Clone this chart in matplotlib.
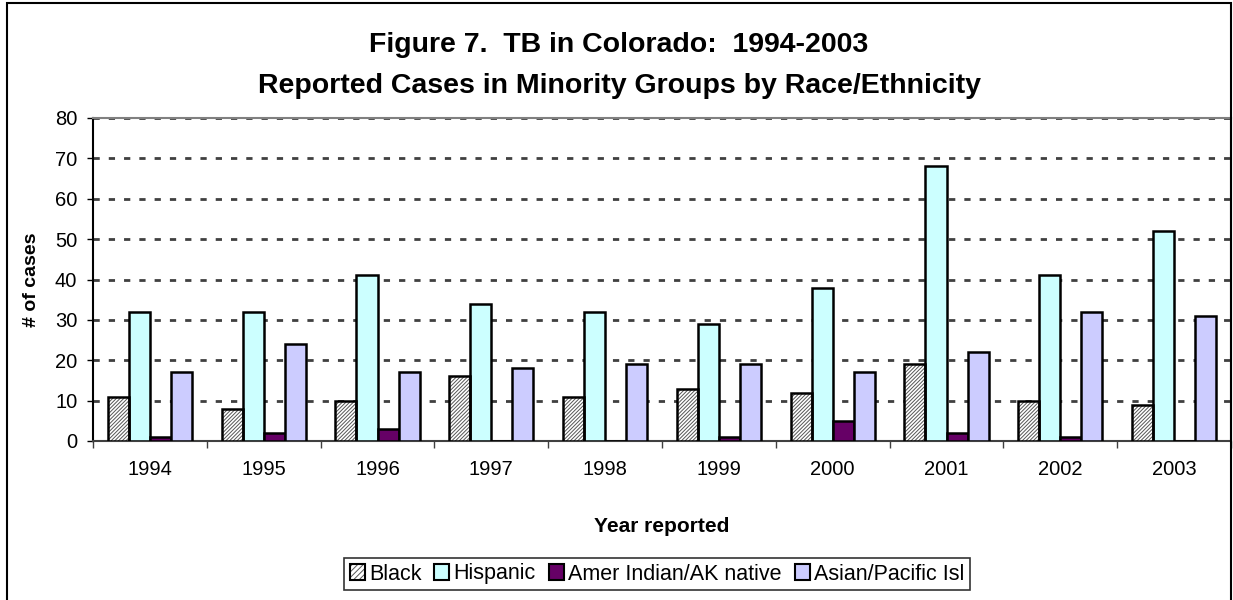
import matplotlib
matplotlib.use('Agg')
import matplotlib.pyplot as plt
import numpy as np
from matplotlib.patches import Patch, Rectangle
from matplotlib.legend_handler import HandlerTuple

years = ['1994', '1995', '1996', '1997', '1998', '1999', '2000', '2001', '2002', '2003']
black = [11, 8, 10, 16, 11, 13, 12, 19, 10, 9]
hispanic = [32, 32, 41, 34, 32, 29, 38, 68, 41, 52]
amer_indian = [1, 2, 3, 0, 0, 1, 5, 2, 1, 0]
asian = [17, 24, 17, 18, 19, 19, 17, 22, 32, 31]

plt.rcParams['font.family'] = ['Liberation Sans', 'DejaVu Sans']
plt.rcParams['hatch.linewidth'] = 0.7
plt.rcParams['lines.scale_dashes'] = False

W, H = 1233, 600
fig = plt.figure(figsize=(W / 100, H / 100), dpi=100)
ax = fig.add_axes([93 / W, 1 - 441 / H, (1231 - 93) / W, (441 - 118) / H])

x = np.arange(len(years))
bw = 0.185
offs = np.array([-1.5, -0.5, 0.5, 1.5]) * bw
lw = 1.8

# black: hatched fill then black outline on top
ax.bar(x + offs[0], black, bw, color='white', edgecolor='#555555', hatch='/////////', linewidth=0, zorder=3)
ax.bar(x + offs[0], black, bw, fill=False, edgecolor='black', linewidth=lw, zorder=4)
ax.bar(x + offs[1], hispanic, bw, color='#ccffff', edgecolor='black', linewidth=lw, zorder=3)
ax.bar(x + offs[2], amer_indian, bw, color='#660066', edgecolor='black', linewidth=lw, zorder=3)
ax.bar(x + offs[3], asian, bw, color='#ccccff', edgecolor='black', linewidth=lw, zorder=3)

ax.set_xlim(-0.5, len(years) - 0.5)
ax.set_ylim(0, 80)
ax.set_yticks(range(0, 81, 10))
ax.set_xticks(x)
ax.set_xticklabels(years, fontsize=14.5)
ax.set_xticks(np.arange(-0.5, len(years), 1), minor=True)
ax.tick_params(axis='x', which='major', length=0, pad=14)
ax.tick_params(axis='x', which='minor', length=5, width=1, color='#404040', direction='out')
ax.tick_params(axis='y', labelsize=14.5, length=4.3, width=1, pad=7, direction='out')

for yv in range(10, 81, 10):
    ax.axhline(yv, color='#404040', linewidth=2, linestyle=(0, (4.5, 6.5)), zorder=1)

ax.spines['left'].set_color('black')
ax.spines['bottom'].set_color('#404040')
ax.spines['top'].set_color('#808080')
ax.spines['right'].set_color('#808080')
for s in ax.spines.values():
    s.set_linewidth(1.5)

ax.set_xlabel('Year reported', fontsize=15, fontweight='bold')
ax.xaxis.set_label_coords(0.5, (441 - 517) / 323)
ax.set_ylabel('# of cases', fontsize=14, fontweight='bold')
ax.yaxis.set_label_coords((40 - 93) / 1138, 0.5)

fig.text(619 / W, 1 - 52 / H, 'Figure 7.  TB in Colorado:  1994-2003', ha='center', va='baseline',
         fontsize=20.5, fontweight='bold')
fig.text(620 / W, 1 - 93 / H, 'Reported Cases in Minority Groups by Race/Ethnicity', ha='center', va='baseline',
         fontsize=20.5, fontweight='bold')

h_black = (Patch(facecolor='white', edgecolor='#555555', hatch='//////', linewidth=0),
           Patch(fill=False, edgecolor='black', linewidth=1.5))
h_hisp = Patch(facecolor='#ccffff', edgecolor='black', linewidth=1.5)
h_amer = Patch(facecolor='#660066', edgecolor='black', linewidth=1.5)
h_asian = Patch(facecolor='#ccccff', edgecolor='black', linewidth=1.5)
leg = fig.legend([h_black, h_hisp, h_amer, h_asian],
                 ['Black', 'Hispanic', 'Amer Indian/AK native', 'Asian/Pacific Isl'],
                 handler_map={tuple: HandlerTuple(ndivide=1)},
                 loc='center', bbox_to_anchor=(657 / W, 1 - 574 / H), ncol=4, fontsize=15.5,
                 frameon=True, fancybox=False, edgecolor='black', handlelength=0.7, handleheight=0.7,
                 handletextpad=0.2, columnspacing=0.6, borderpad=0.25, borderaxespad=0)
leg.get_frame().set_linewidth(1.2)

fig.patches.append(Rectangle((7 / W, -0.01), (1231 - 7) / W, 1.01 - 3 / H, transform=fig.transFigure,
                             fill=False, edgecolor='black', linewidth=1.5))

fig.savefig('out.png', dpi=100)
